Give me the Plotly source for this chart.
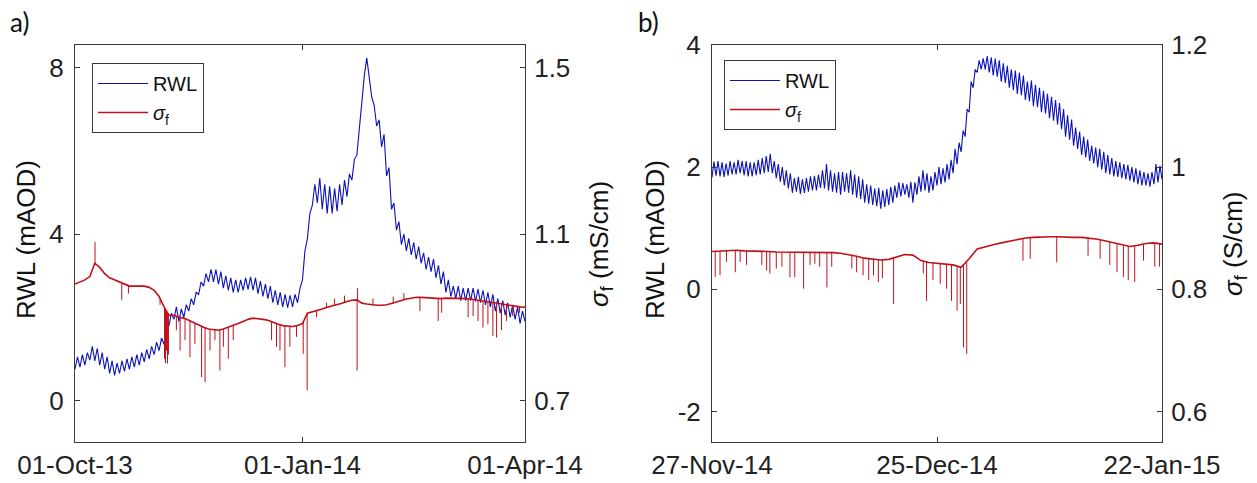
import numpy as np
import pandas as pd
import plotly.graph_objects as go

# ---------------- data: panel a (01-Oct-13 .. 01-Apr-14) ----------------
start_a = "2013-10-01"
# river water level (mAOD), daily readings (low/high of the tidal band)
rwl_a = [0.75, 1.05, 0.8, 1.1, 0.85, 1.15, 0.97, 1.3, 0.95, 1.25,
         0.85, 1.15, 0.75, 1.05, 0.65, 0.95, 0.6, 0.9, 0.65, 0.95,
         0.7, 1.0, 0.75, 1.05, 0.8, 1.1, 0.85, 1.15, 0.93, 1.23,
         1.0, 1.3, 1.1, 1.4, 1.2, 1.5, 1.35, 1.7, 1.8, 2.1,
         1.95, 2.25, 1.9, 2.2, 2.0, 2.3, 2.15, 2.45, 2.3, 2.6,
         2.55, 2.85, 2.75, 3.05, 2.85, 3.15, 2.85, 3.15, 2.8, 3.1,
         2.7, 3.0, 2.65, 2.95, 2.6, 2.9, 2.6, 2.9, 2.65, 2.95,
         2.67, 2.97, 2.65, 2.95, 2.57, 2.87, 2.5, 2.8, 2.45, 2.75,
         2.35, 2.65, 2.3, 2.6, 2.25, 2.55, 2.23, 2.53, 2.25, 2.55,
         2.35, 2.7, 2.9, 3.6, 3.9, 4.5, 4.7, 5.2, 4.75, 5.35,
         4.6, 5.2, 4.5, 5.15, 4.5, 5.1, 4.55, 5.2, 4.7, 5.3,
         4.9, 5.45, 5.3, 5.8, 5.9, 6.6, 7.3, 7.8, 8.24, 7.8,
         7.3, 7.1, 6.6, 6.75, 6.1, 6.4, 5.4, 5.6, 4.6, 4.75,
         4.1, 4.3, 3.75, 4.0, 3.6, 3.9, 3.5, 3.8, 3.4, 3.7,
         3.3, 3.55, 3.15, 3.45, 3.1, 3.4, 2.95, 3.25, 2.8, 3.1,
         2.6, 2.9, 2.5, 2.75, 2.45, 2.75, 2.4, 2.7, 2.4, 2.7,
         2.4, 2.7, 2.38, 2.68, 2.35, 2.65, 2.3, 2.6, 2.25, 2.55,
         2.15, 2.45, 2.1, 2.4, 2.05, 2.35, 2.0, 2.3, 1.95, 2.25,
         1.85, 2.15, 1.9]
# fluid conductivity (mS/cm), every 2 days
sig_a = [0.98, 0.985, 0.99, 0.998, 1.03, 1.02, 1.005, 0.995, 0.99, 0.985,
         0.98, 0.975, 0.975, 0.975, 0.975, 0.972, 0.965, 0.95, 0.925, 0.905,
         0.905, 0.9, 0.898, 0.893, 0.887, 0.88, 0.876, 0.872, 0.87, 0.869,
         0.872, 0.876, 0.88, 0.885, 0.89, 0.895, 0.898, 0.897, 0.895, 0.893,
         0.888, 0.884, 0.88, 0.879, 0.878, 0.88, 0.885, 0.91, 0.913, 0.917,
         0.92, 0.924, 0.927, 0.93, 0.934, 0.938, 0.941, 0.942, 0.934, 0.932,
         0.93, 0.929, 0.929, 0.93, 0.933, 0.937, 0.941, 0.944, 0.946, 0.948,
         0.948, 0.947, 0.946, 0.945, 0.945, 0.946, 0.946, 0.946, 0.946, 0.945,
         0.944, 0.942, 0.94, 0.938, 0.936, 0.934, 0.932, 0.93, 0.928, 0.927,
         0.925, 0.924]
# short conductivity excursions: day offset, extreme value (mS/cm)
spk_a_day = [8.1, 18.9, 21.6, 34.4, 36.2, 36.6, 37.0, 37.4, 37.8, 41.0, 42.5,
             44.5, 46.5, 48.5, 51.2, 52.6, 54.6, 56.6, 58.6, 60.0, 62.0, 64.0,
             79.5, 81.5, 82.9, 84.9, 86.9, 89.6, 92.3, 93.9, 97.7, 101.7, 105.0,
             109.0, 114.1, 114.3, 120.5, 128.7, 133.0, 139.5, 146.9, 148.3,
             159.0, 161.0, 163.0, 165.0, 167.0, 169.0, 170.5, 172.5, 174.5,
             177.0, 179.8]
spk_a_val = [1.081, 0.941, 0.957, 0.93, 0.8, 0.79, 0.82, 0.789, 0.81, 0.869, 0.82,
             0.845, 0.804, 0.836, 0.756, 0.744, 0.82, 0.845, 0.772, 0.829, 0.8, 0.845,
             0.845, 0.829, 0.82, 0.78, 0.829, 0.853, 0.812, 0.724, 0.9, 0.935, 0.945,
             0.952, 0.772, 0.97, 0.945, 0.95, 0.958, 0.915, 0.891, 0.911,
             0.9, 0.903, 0.891, 0.875, 0.883, 0.855, 0.851, 0.869, 0.891,
             0.903, 0.911]

# ---------------- data: panel b (27-Nov-14 .. 22-Jan-15) ----------------
start_b = "2014-11-27"
# river water level (mAOD), every quarter day
rwl_b = [1.83, 2.09, 1.86, 2.1,  1.85, 2.08, 1.84, 2.06,  1.86, 2.1, 1.88, 2.08,
         1.88, 2.12, 1.9, 2.1,  1.87, 2.1, 1.85, 2.08,  1.85, 2.08, 1.87, 2.12,
         1.88, 2.15, 1.9, 2.18,  1.92, 2.22, 1.9, 2.1,  1.82, 2.05, 1.76, 2.0,
         1.7, 1.95, 1.65, 1.9,  1.58, 1.82, 1.6, 1.84,  1.56, 1.8, 1.58, 1.82,
         1.6, 1.85, 1.62, 1.86,  1.62, 1.88, 1.66, 1.95,  1.65, 2.05, 1.62, 1.95,
         1.6, 1.9, 1.58, 1.92,  1.55, 1.92, 1.6, 1.9,  1.58, 1.95, 1.55, 1.88,
         1.5, 1.85, 1.48, 1.8,  1.42, 1.72, 1.4, 1.7,  1.38, 1.65, 1.36, 1.66,
         1.32, 1.62, 1.35, 1.64,  1.38, 1.68, 1.42, 1.7,  1.5, 1.75, 1.52, 1.74,
         1.55, 1.72, 1.5, 1.76,  1.42, 1.75, 1.55, 1.85,  1.6, 1.95, 1.62, 1.9,
         1.58, 1.85, 1.62, 1.92,  1.7, 2.0, 1.72, 1.98,  1.75, 2.05, 1.8, 2.12,
         1.9, 2.3, 2.05, 2.4,  2.25, 2.6, 2.5, 2.95,  2.9, 3.4, 3.3, 3.6,
         3.55, 3.75, 3.6, 3.78,  3.6, 3.82, 3.55, 3.8,  3.5, 3.78, 3.48, 3.75,
         3.4, 3.7, 3.38, 3.66,  3.3, 3.6, 3.26, 3.58,  3.2, 3.55, 3.18, 3.5,
         3.1, 3.4, 3.08, 3.42,  3.0, 3.35, 2.98, 3.3,  2.9, 3.25, 2.88, 3.2,
         2.8, 3.15, 2.76, 3.1,  2.7, 3.05, 2.62, 2.95,  2.5, 2.85, 2.45, 2.78,
         2.35, 2.65, 2.3, 2.58,  2.2, 2.5, 2.16, 2.45,  2.1, 2.35, 2.06, 2.32,
         2.0, 2.3, 1.96, 2.25,  1.9, 2.2, 1.88, 2.15,  1.85, 2.1, 1.84, 2.08,
         1.82, 2.05, 1.8, 2.04,  1.78, 2.0, 1.75, 1.98,  1.72, 1.95, 1.7, 1.92,
         1.7, 1.9, 1.68, 1.92,  1.72, 2.05, 1.75, 2.02,  1.8]
# fluid conductivity (S/cm), daily
sig_b = [0.862, 0.863, 0.864, 0.864, 0.863, 0.863, 0.862, 0.862, 0.861, 0.861,
         0.860, 0.860, 0.860, 0.861, 0.861, 0.860, 0.859, 0.857, 0.854, 0.851,
         0.849, 0.848, 0.849, 0.853, 0.857, 0.856, 0.847, 0.844, 0.843, 0.842,
         0.840, 0.836, 0.850, 0.866, 0.870, 0.873, 0.876, 0.879, 0.882, 0.884,
         0.885, 0.886, 0.886, 0.886, 0.885, 0.885, 0.885, 0.884, 0.882, 0.879,
         0.876, 0.872, 0.870, 0.872, 0.875, 0.876, 0.874]
spk_b_day = [0.4, 1.0, 1.8, 2.9, 3.5, 4.3, 6.2, 6.8, 7.2, 8.0, 8.7, 9.7, 10.3,
             11.4, 12.2, 12.8, 13.4, 14.3, 14.9, 17.4, 18.0, 18.8, 19.5, 20.1,
             20.7, 21.2, 22.6, 26.3, 26.7, 27.5, 28.4, 29.2, 29.8, 30.5, 30.9,
             31.3, 31.7, 38.7, 39.6, 42.9, 46.8, 48.3, 49.5, 50.4, 51.2, 51.8,
             52.6, 53.7, 55.1, 55.7]
spk_b_val = [0.82, 0.823, 0.845, 0.828, 0.845, 0.84, 0.84, 0.831, 0.826, 0.834,
             0.837, 0.82, 0.82, 0.801, 0.84, 0.842, 0.837, 0.803, 0.837, 0.834,
             0.828, 0.823, 0.815, 0.823, 0.812, 0.818, 0.776, 0.826, 0.781, 0.815,
             0.809, 0.801, 0.781, 0.765, 0.776, 0.705, 0.694, 0.847, 0.85, 0.844,
             0.855, 0.85, 0.84, 0.828, 0.82, 0.815, 0.812, 0.847, 0.837, 0.837]

xt_a_vals = ["2013-10-01", "2014-01-01", "2014-04-01"]
xt_a_text = ["01-Oct-13", "01-Jan-14", "01-Apr-14"]
xt_b_vals = ["2014-11-27", "2014-12-25", "2015-01-22"]
xt_b_text = ["27-Nov-14", "25-Dec-14", "22-Jan-15"]

# ---------------- figure ----------------
W, H = 1257, 483
BLUE = "#0b12b8"
RED = "#c0111b"
AX = "#3a3a3a"
FONT = "Liberation Sans, Arial, sans-serif"


def px(x):
    return x / W


def py(y):
    return 1 - y / H


def dates(start, n, step_days):
    return pd.Timestamp(start) + pd.to_timedelta(np.arange(n) * step_days, unit="D")


def spikes(start, base_step, base, sd, sv):
    bd = np.arange(len(base)) * base_step
    xs, ys = [], []
    t0 = pd.Timestamp(start)
    for d, v in zip(sd, sv):
        t = t0 + pd.to_timedelta(d, unit="D")
        xs += [t, t, None]
        ys += [float(np.interp(d, bd, base)), v, None]
    return xs, ys


fig = go.Figure()

# panel a
fig.add_trace(go.Scatter(x=dates(start_a, len(rwl_a), 1), y=rwl_a, mode="lines",
                         line=dict(color=BLUE, width=1.1), name="RWL",
                         xaxis="x", yaxis="y", legend="legend"))
fig.add_trace(go.Scatter(x=dates(start_a, len(sig_a), 2), y=sig_a, mode="lines",
                         line=dict(color=RED, width=1.6), name="<i>σ</i><sub>f</sub>",
                         xaxis="x", yaxis="y2", legend="legend"))
sx, sy = spikes(start_a, 2, sig_a, spk_a_day, spk_a_val)
fig.add_trace(go.Scatter(x=sx, y=sy, mode="lines", line=dict(color=RED, width=1),
                         showlegend=False, xaxis="x", yaxis="y2"))

# panel b
fig.add_trace(go.Scatter(x=dates(start_b, len(rwl_b), 0.25), y=rwl_b, mode="lines",
                         line=dict(color=BLUE, width=1.1), name="RWL",
                         xaxis="x2", yaxis="y3", legend="legend2"))
fig.add_trace(go.Scatter(x=dates(start_b, len(sig_b), 1), y=sig_b, mode="lines",
                         line=dict(color=RED, width=1.6), name="<i>σ</i><sub>f</sub>",
                         xaxis="x2", yaxis="y4", legend="legend2"))
sx, sy = spikes(start_b, 1, sig_b, spk_b_day, spk_b_val)
fig.add_trace(go.Scatter(x=sx, y=sy, mode="lines", line=dict(color=RED, width=1),
                         showlegend=False, xaxis="x2", yaxis="y4"))

ydom = [py(442), py(45)]
common = dict(showgrid=False, zeroline=False, showline=True, linecolor=AX, linewidth=1,
              ticks="inside", ticklen=5, tickcolor=AX, automargin=False,
              tickfont=dict(family=FONT, size=26, color="#222"))

fig.update_layout(
    width=W, height=H, margin=dict(l=0, r=0, t=0, b=0, pad=0, autoexpand=False),
    paper_bgcolor="white", plot_bgcolor="white",
    xaxis=dict(domain=[px(75), px(525)], anchor="y", range=["2013-10-01", "2014-04-01"],
               tickmode="array", tickvals=xt_a_vals, ticktext=xt_a_text, mirror="ticks",
               **common),
    yaxis=dict(domain=ydom, anchor="x", range=[-1.0, 8.55], tickmode="array",
               tickvals=[0, 4, 8], ticktext=["0", "4", "8"], side="left",
               ticklabelstandoff=5, **common),
    yaxis2=dict(anchor="x", overlaying="y", side="right", range=[0.6, 1.555],
                tickmode="array", tickvals=[0.7, 1.1, 1.5], ticktext=["0.7", "1.1", "1.5"],
                ticklabelstandoff=3, **common),
    xaxis2=dict(domain=[px(712), px(1162)], anchor="y3", range=["2014-11-27", "2015-01-22"],
                tickmode="array", tickvals=xt_b_vals, ticktext=xt_b_text, mirror="ticks",
                **common),
    yaxis3=dict(domain=ydom, anchor="x2", range=[-2.5, 4], tickmode="array",
                tickvals=[-2, 0, 2, 4], ticktext=["-2", "0", "2", "4"], side="left",
                ticklabelstandoff=5, **common),
    yaxis4=dict(anchor="x2", overlaying="y3", side="right", range=[0.55, 1.2],
                tickmode="array", tickvals=[0.6, 0.8, 1.0, 1.2],
                ticktext=["0.6", "0.8", "1", "1.2"], ticklabelstandoff=3, **common),
    legend=dict(x=px(92), y=py(63), xanchor="left", yanchor="top", bgcolor="white",
                bordercolor=AX, borderwidth=1, itemwidth=50,
                font=dict(family=FONT, size=20, color="#111")),
    legend2=dict(x=px(724), y=py(60), xanchor="left", yanchor="top", bgcolor="white",
                 bordercolor=AX, borderwidth=1, itemwidth=50,
                 font=dict(family=FONT, size=20, color="#111")),
)

tfont = dict(family=FONT, size=26, color="#111")
ann = [
    dict(x=px(26), y=py(240), text="RWL (mAOD)", textangle=-90, font=tfont),
    dict(x=px(600), y=py(244), text="<i>σ</i><sub>f</sub> (mS/cm)", textangle=-90, font=tfont),
    dict(x=px(655), y=py(240), text="RWL (mAOD)", textangle=-90, font=tfont),
    dict(x=px(1234), y=py(244), text="<i>σ</i><sub>f</sub> (S/cm)", textangle=-90, font=tfont),
    dict(x=px(8), y=py(22), text="a)", xanchor="left",
         font=dict(family="Lato, Open Sans, sans-serif", size=26, color="#111")),
    dict(x=px(636), y=py(22), text="b)", xanchor="left",
         font=dict(family="Lato, Open Sans, sans-serif", size=26, color="#111")),
]
for a in ann:
    a.setdefault("xanchor", "center")
    a.update(xref="paper", yref="paper", showarrow=False, yanchor="middle")
fig.update_layout(annotations=ann)

fig.write_html("out.html")
